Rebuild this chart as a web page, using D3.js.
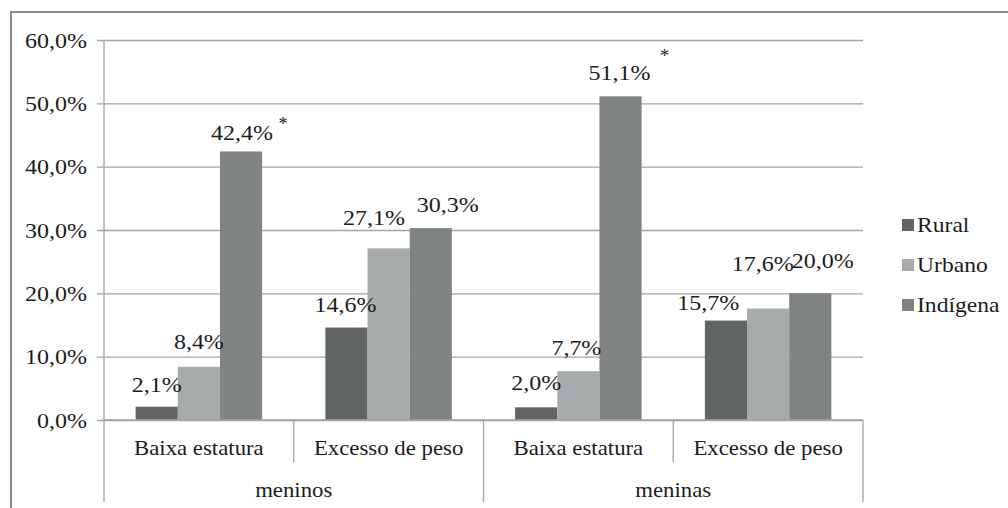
<!DOCTYPE html>
<html>
<head>
<meta charset="utf-8">
<script src="https://cdn.jsdelivr.net/npm/d3@7/dist/d3.min.js"></script>
<style>
  html, body { margin: 0; padding: 0; background: #fff; }
  svg { display: block; }
</style>
</head>
<body>
<svg id="chart" width="1008" height="508"></svg>
<script>
// Prevalence by sex, indicator and setting
const groups = ["meninos", "meninas"];
const categories = ["Baixa estatura", "Excesso de peso"];
const series = ["Rural", "Urbano", "Indígena"];
const rural    = [2.1, 14.6, 2.0, 15.7];
const urbano   = [8.4, 27.1, 7.7, 17.6];
const indigena = [42.4, 30.3, 51.1, 20.0];
const indigenaMark = ["*", "", "*", ""];
const yTicks = [0, 10, 20, 30, 40, 50, 60];

// Hand-placed value label nudges [dx, dy from bar top], per series
const labelNudge = {
  Rural:    [[0, -15], [-1, -16], [0, -17], [-17.7, -10.6]],
  Urbano:   [[0, -18], [-14.6, -23], [-2, -16], [-5.4, -38]],
  "Indígena": [[1, -11], [17, -16], [-1, -16], [12.5, -25]]
};
const markNudge = [[41, -10], null, [45, -18], null];

const colors = { Rural: "#606464", Urbano: "#a8abab", "Indígena": "#7f8383" };
const values = { Rural: rural, Urbano: urbano, "Indígena": indigena };

const svg = d3.select("#chart");
const plot = { left: 104, right: 863, top: 40, bottom: 420 };
const gridColor = "#a3a3a3";
const serif = "Liberation Serif";
const ink = "#1c1c1c";

// flattened sub-categories: meninos|Baixa, meninos|Excesso, meninas|Baixa, meninas|Excesso
const slots = [];
groups.forEach(g => categories.forEach(c => slots.push({ group: g, cat: c })));

const x0 = d3.scaleBand().domain(d3.range(slots.length))
  .range([plot.left, plot.right]).paddingInner(0).paddingOuter(0);
const x1 = d3.scaleBand().domain(series).range([0, x0.bandwidth()])
  .paddingInner(0).paddingOuter(0.75);
const y = d3.scaleLinear().domain([0, 60]).range([plot.bottom, plot.top]);
const fmt = v => d3.format(".1f")(v).replace(".", ",") + "%";

// serif text, widened horizontally like the original typesetting
function label(parent, x, yPos, str, opts = {}) {
  const { size = 20, sx = 1.18, anchor = "middle" } = opts;
  const g = parent.append("g").attr("transform", `translate(${x},${yPos}) scale(${sx},1)`);
  return g.append("text")
    .attr("font-family", serif).attr("font-size", size)
    .attr("fill", ink).attr("text-anchor", anchor)
    .text(str);
}

// outer frame
svg.append("path")
  .attr("d", "M11,508 L11,12 L1008,12")
  .attr("fill", "none").attr("stroke", "#8a8a8a").attr("stroke-width", 2);

// gridlines + y axis (ticks drawn by d3, labels re-set in the serif face)
const yAxis = d3.axisLeft(y).tickValues(yTicks)
  .tickSize(-(plot.right - plot.left)).tickSizeOuter(0)
  .tickFormat("");
const gy = svg.append("g").attr("transform", `translate(${plot.left},0)`).call(yAxis);
gy.select(".domain").remove();
gy.selectAll(".tick line").attr("stroke", gridColor).attr("stroke-width", 1.3)
  .attr("x1", -7).attr("x2", plot.right - plot.left);
gy.selectAll(".tick text").remove();
gy.selectAll(".tick").each(function (d) {
  label(d3.select(this), -17, 7, fmt(d), { anchor: "end", sx: 1.2 });
});

// vertical axis line
svg.append("line")
  .attr("x1", plot.left).attr("x2", plot.left)
  .attr("y1", plot.top).attr("y2", plot.bottom)
  .attr("stroke", gridColor).attr("stroke-width", 1.3);

// bars
slots.forEach((s, i) => {
  const g = svg.append("g").attr("transform", `translate(${x0(i)},0)`);
  series.forEach(name => {
    const v = values[name][i];
    g.append("rect")
      .attr("x", x1(name)).attr("width", x1.bandwidth())
      .attr("y", y(v)).attr("height", y(0) - y(v))
      .attr("fill", colors[name]);
  });
});

// category axis line and tick separators
svg.append("line")
  .attr("x1", plot.left).attr("x2", plot.right)
  .attr("y1", plot.bottom).attr("y2", plot.bottom)
  .attr("stroke", gridColor).attr("stroke-width", 1.3);

const boundaries = d3.range(slots.length + 1).map(i =>
  i < slots.length ? x0(i) : x0(slots.length - 1) + x0.bandwidth());
boundaries.forEach((bx, i) => {
  const outer = i % categories.length === 0;
  svg.append("line")
    .attr("x1", bx).attr("x2", bx)
    .attr("y1", plot.bottom).attr("y2", outer ? 502 : 462)
    .attr("stroke", gridColor).attr("stroke-width", 1.3);
});

// category labels
slots.forEach((s, i) => {
  label(svg, x0(i) + x0.bandwidth() / 2, 455, s.cat, { sx: 1.14 });
});
// group labels
groups.forEach((g, gi) => {
  const a = x0(gi * categories.length);
  const b = x0(gi * categories.length + categories.length - 1) + x0.bandwidth();
  label(svg, (a + b) / 2, 497, g, { sx: 1.14 });
});

// value labels
slots.forEach((s, i) => {
  series.forEach(name => {
    const v = values[name][i];
    const [dx, dy] = labelNudge[name][i];
    const cx = x0(i) + x1(name) + x1.bandwidth() / 2 + dx;
    const by = y(v) + dy;
    label(svg, cx, by, fmt(v), { sx: 1.2 });
    if (name === "Indígena" && indigenaMark[i]) {
      const [mx, my] = markNudge[i];
      label(svg, cx + mx, by + my, indigenaMark[i], { size: 18, sx: 1 });
    }
  });
});

// legend
const legend = svg.append("g").attr("transform", "translate(902,225)");
series.forEach((name, k) => {
  const row = legend.append("g").attr("transform", `translate(0,${k * 40})`);
  row.append("rect").attr("x", 0).attr("y", -6).attr("width", 12).attr("height", 12)
    .attr("fill", colors[name]);
  label(row, 15, 7, name, { anchor: "start", sx: 1.18 });
});
</script>
</body>
</html>
